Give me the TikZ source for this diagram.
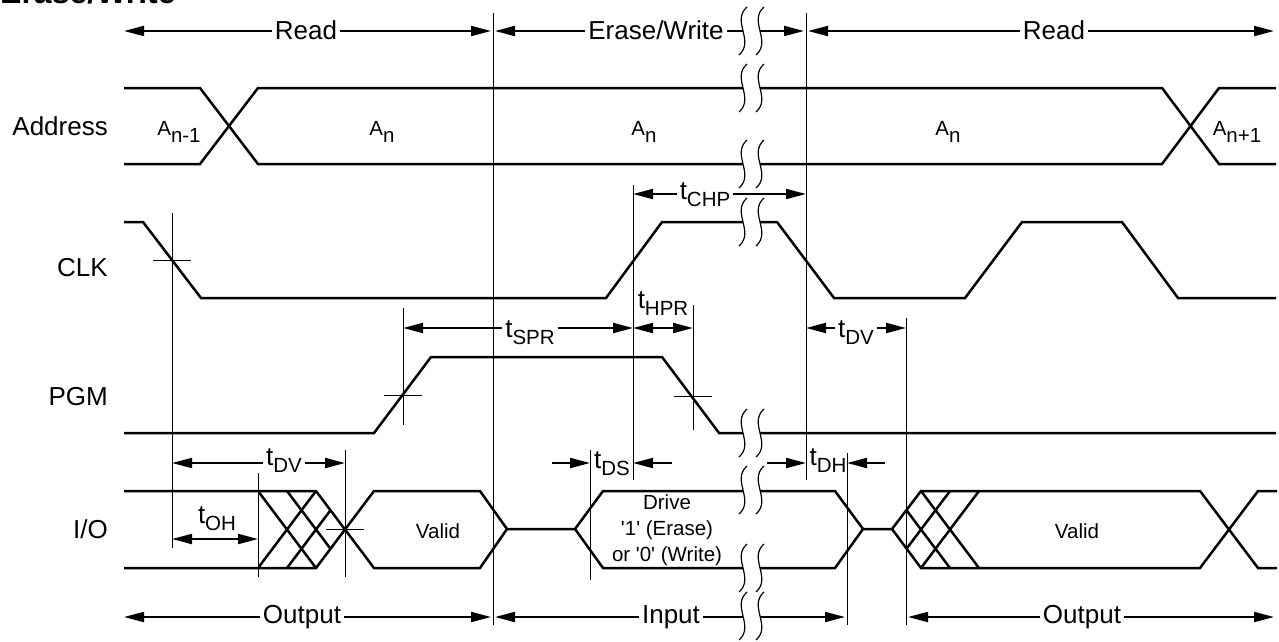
\documentclass[tikz,border=0pt]{standalone}
\usepackage{fontspec}
\setmainfont{Liberation Sans}
\usetikzlibrary{arrows.meta}

\newcommand{\tsub}[1]{t\raisebox{-7pt}{\fontsize{20.5}{24}\selectfont #1}}
\newcommand{\asub}[1]{A\raisebox{-7pt}{#1}}

\begin{document}
\begin{tikzpicture}[x=1pt, y=-1pt, >={Triangle[length=20pt,width=10pt]}]
		\tikzstyle{sig}=[line width=2.5pt]
		\tikzstyle{tline}=[line width=1pt]
		\tikzstyle{dimline}=[line width=2pt]
		\tikzstyle{lbig}=[font=\fontsize{26}{30}\selectfont, inner sep=0pt]
		\tikzstyle{lsmall}=[font=\fontsize{20.5}{26}\selectfont, inner sep=0pt]
		\tikzstyle{lab}=[lbig, fill=white, inner xsep=3pt, inner ysep=1pt, anchor=base]
		\tikzstyle{brk}=[line width=1.2pt]
		
		\useasboundingbox (0,0) rectangle (1279,641);
		\clip (0,0) rectangle (1279,641);
		
		% Title (cut at the top)
		\node[font=\bfseries\fontsize{32}{36}\selectfont, anchor=base west, inner sep=0pt] (title) at (0,3) {Erase/Write};
		
		% Row names
		\node[lbig, anchor=base east] (l_addr) at (108,135) {Address};
		\node[lbig, anchor=base east] (l_clk) at (108,276) {CLK};
		\node[lbig, anchor=base east] (l_pgm) at (108,405) {PGM};
		\node[lbig, anchor=base east] (l_io) at (108,538) {I/O};
		
		% Timing lines
		\foreach \x/\a/\b in {172/213/548, 258/473/577, 345/450/577, 403/308/425, 493/13/625, 590/450/580, 633/185/480, 693/305/430, 806/13/480, 847/453/625, 906/318/625}
		\draw[tline] (\x,\a) -- (\x,\b);
		\foreach \x/\y in {172/260, 403/395, 693/396, 345/529}
		\draw[tline] (\x-19,\y) -- (\x+19,\y);
		
		% Address
		\draw[sig] (124,88) -- (200,88) -- (258,164) -- (1162,164) -- (1219,88) -- (1276,88);
		\draw[sig] (124,164) -- (200,164) -- (258,88) -- (1162,88) -- (1219,164) -- (1276,164);
		\node[lsmall, anchor=base] (a_1) at (179,135) {\asub{n-1}};
		\node[lsmall, anchor=base] (a_2) at (382,135) {\asub{n}};
		\node[lsmall, anchor=base] (a_3) at (644,135) {\asub{n}};
		\node[lsmall, anchor=base] (a_4) at (948,135) {\asub{n}};
		\node[lsmall, anchor=base] (a_5) at (1237,135) {\asub{n+1}};
		
		% CLK
		\draw[sig] (124,222) -- (143,222) -- (201,298) -- (606,298) -- (662,222) -- (777,222) -- (834,298) -- (965,298) -- (1022,222) -- (1122,222) -- (1178,298) -- (1276,298);
		
		% PGM
		\draw[sig] (124,433) -- (374,433) -- (431,357) -- (662,357) -- (719,433) -- (1276,433);
		
		% I/O
		\draw[sig] (124,491) -- (316,491) -- (374,568) -- (480,568) -- (507,529) -- (575,529) -- (603,568) -- (835,568) -- (863,529) -- (892,529) -- (921,568) -- (1200,568) -- (1258,491) -- (1277,491);
		\draw[sig] (124,568) -- (316,568) -- (374,491) -- (480,491) -- (507,529)
		(575,529) -- (603,491) -- (835,491) -- (863,529)
		(892,529) -- (921,491) -- (1200,491) -- (1258,568) -- (1277,568);
		\begin{scope}
			\clip (258,491) -- (316,491) -- (345,529) -- (316,568) -- (258,568) -- cycle;
			\foreach \s in {258,287} {
				\draw[sig] (\s,491) -- (\s+58,568);
				\draw[sig] (\s,568) -- (\s+58,491);
			}
		\end{scope}
		\begin{scope}
			\clip (892,529) -- (921,491) -- (990,491) -- (990,568) -- (921,568) -- cycle;
			\foreach \s in {892,921} {
				\draw[sig] (\s,491) -- (\s+58,568);
				\draw[sig] (\s,568) -- (\s+58,491);
			}
		\end{scope}
		\node[lsmall, anchor=base] (v_1) at (438,538) {Valid};
		\node[lsmall, anchor=base] (v_2) at (1077,538) {Valid};
		\node[lsmall, align=center] (drv) at (667,530) {Drive\\\textquotesingle 1\textquotesingle{} (Erase)\\or \textquotesingle 0\textquotesingle{} (Write)};
		
		% Phases
		\draw[dimline, <->] (124,31) -- (491,31);
		\node[lab] (rd_1) at (306,39) {Read};
		\draw[dimline, <->] (495,31) -- (804,31);
		\node[lab] (ew) at (656,39) {Erase/Write};
		\draw[dimline, <->] (808,31) -- (1274,31);
		\node[lab] (rd_2) at (1054,39) {Read};
		\draw[dimline, <->] (124,617) -- (491,617);
		\node[lab] (out_1) at (302,623) {Output};
		\draw[dimline, <->] (495,617) -- (845,617);
		\node[lab] (inp) at (671,623) {Input};
		\draw[dimline, <->] (908,617) -- (1274,617);
		\node[lab] (out_2) at (1082,623) {Output};
		
		% Timings
		\draw[dimline, <->] (633,194) -- (806,194);
		\node[lab] (t_chp) at (705,199) {\tsub{CHP}};
		\draw[dimline, <->] (403,328) -- (633,328);
		\node[lab] (t_spr) at (530,337) {\tsub{SPR}};
		\draw[dimline, <->] (633,328) -- (693,328);
		\node[lab, fill=none] (t_hpr) at (663,308) {\tsub{HPR}};
		\draw[dimline, <->] (806,328) -- (906,328);
		\node[lab] (t_dv1) at (856,337) {\tsub{DV}};
		\draw[dimline, <->] (172,463) -- (345,463);
		\node[lab] (t_dv2) at (284,465) {\tsub{DV}};
		\draw[dimline, <->] (172,539) -- (258,539);
		\node[lab, fill=none] (t_oh) at (217,523) {\tsub{OH}};
		\draw[dimline, ->] (552,463) -- (590,463);
		\draw[dimline, ->] (672,463) -- (633,463);
		\node[lab, fill=none] (t_ds) at (612,468) {\tsub{DS}};
		\draw[dimline, ->] (767,463) -- (806,463);
		\draw[dimline, ->] (885,463) -- (847,463);
		\node[lab, fill=none] (t_dh) at (828,465) {\tsub{DH}};
		
		% Breaks
		\foreach \y in {31,88,164,222,433,490,568,616} {
			\fill[white] (747,\y-24) .. controls (731,\y-10) and (755,\y+10) .. (739,\y+24) -- (756,\y+24) .. controls (772,\y+10) and (748,\y-10) .. (764,\y-24) -- cycle;
			\draw[brk] (747,\y-24) .. controls (731,\y-10) and (755,\y+10) .. (739,\y+24);
			\draw[brk] (764,\y-24) .. controls (748,\y-10) and (772,\y+10) .. (756,\y+24);
		}
\end{tikzpicture}
\end{document}
